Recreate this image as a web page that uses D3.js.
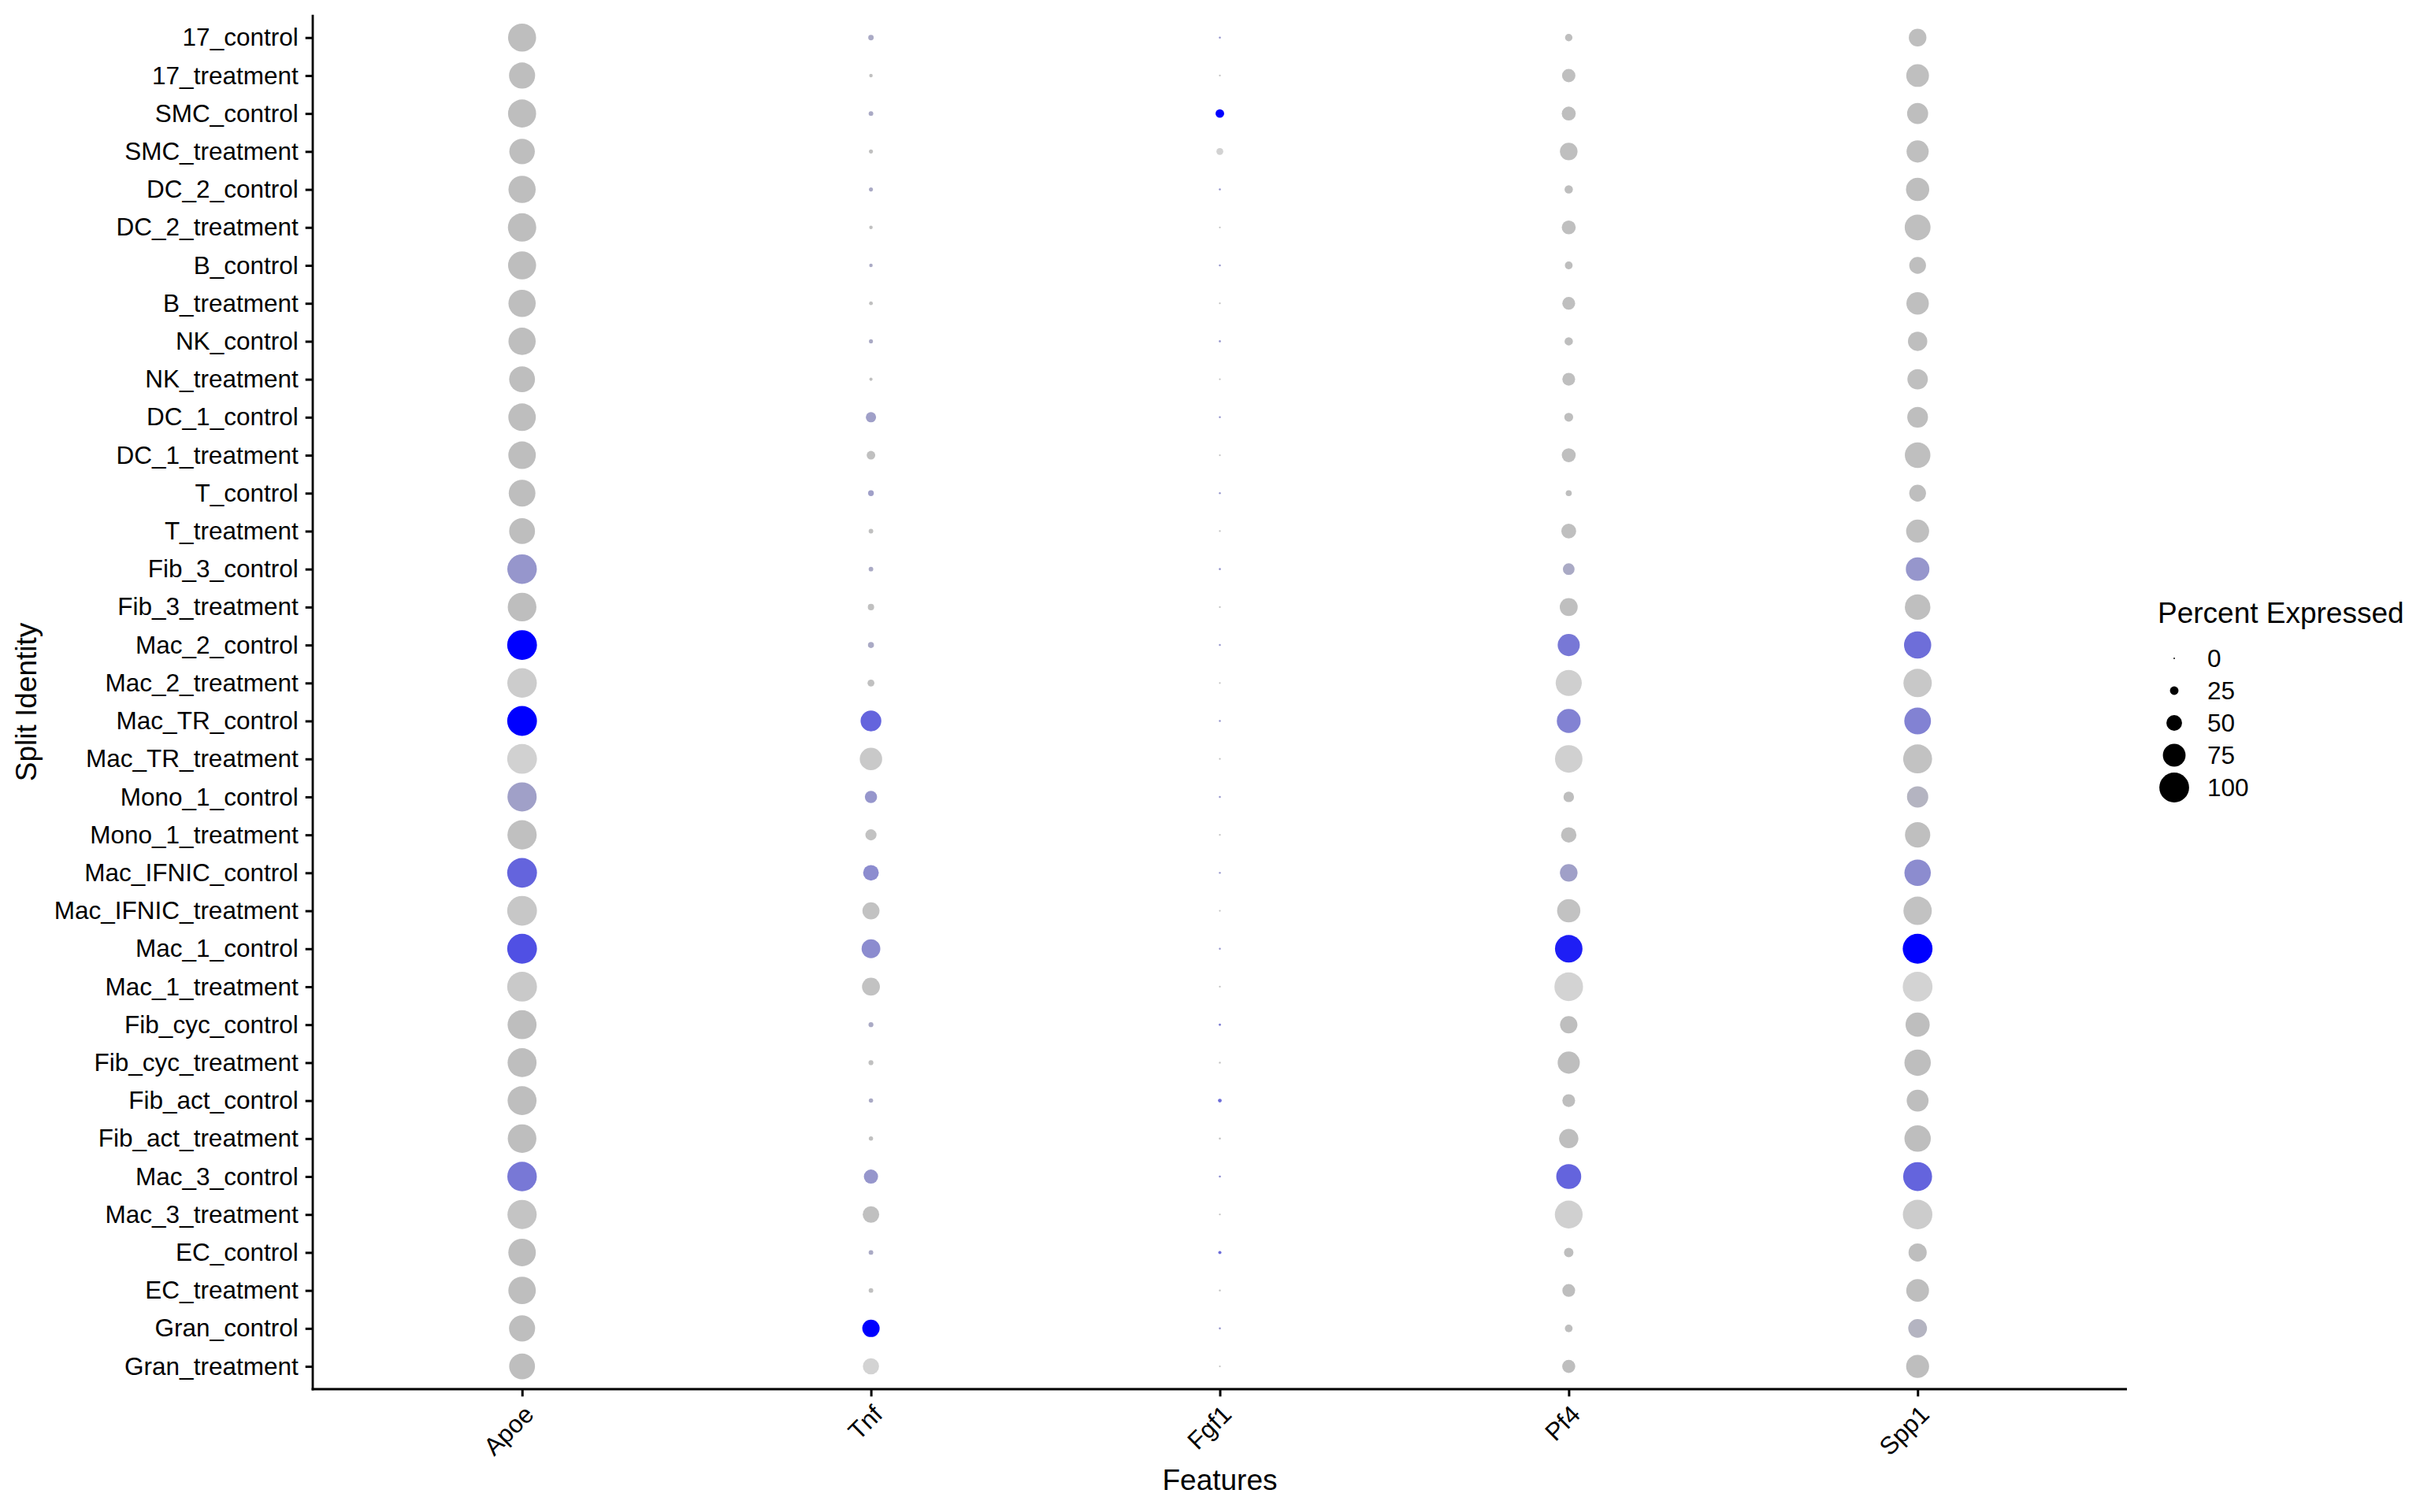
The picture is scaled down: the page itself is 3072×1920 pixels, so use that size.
<!DOCTYPE html>
<html>
<head>
<meta charset="utf-8">
<script src="https://cdn.jsdelivr.net/npm/d3@7"></script>
<style>
  html, body { margin: 0; padding: 0; background: #ffffff; }
  svg { display: block; }
  text { font-family: "Liberation Sans", Arial, Helvetica, sans-serif; fill: #000; }
</style>
</head>
<body>
<svg id="chart" width="3072" height="1920"></svg>
<script>
// ---------------- DATA ----------------
const ids = [
  "17_control","17_treatment","SMC_control","SMC_treatment","DC_2_control","DC_2_treatment",
  "B_control","B_treatment","NK_control","NK_treatment","DC_1_control","DC_1_treatment",
  "T_control","T_treatment","Fib_3_control","Fib_3_treatment","Mac_2_control","Mac_2_treatment",
  "Mac_TR_control","Mac_TR_treatment","Mono_1_control","Mono_1_treatment","Mac_IFNIC_control","Mac_IFNIC_treatment",
  "Mac_1_control","Mac_1_treatment","Fib_cyc_control","Fib_cyc_treatment","Fib_act_control","Fib_act_treatment",
  "Mac_3_control","Mac_3_treatment","EC_control","EC_treatment","Gran_control","Gran_treatment"
];
const features = ["Apoe", "Tnf", "Fgf1", "Pf4", "Spp1"];

// Percent expressed (one value per id, in the order of ids)
const pctApoe = [94,87,94,85,91,95,94,91,91,86,92,92,89,86,99,96,100,99,100,100,98,98,100,100,100,100,97,97,97,96,99,98,92,92,87,86];
const pctTnf  = [14,7,11,9,9,7,7,8,9,6,31,25,15,11,11,17,16,19,68,74,38,34,50,55,61,58,12,12,10,10,45,53,11,11,56,52];
const pctFgf1 = [2,1,25,19,2,1,1.5,1,2,1,1.5,1,1.5,1,2,1,1.5,1,1.5,1,1.5,1,1.5,1,1.5,1,3,1.5,8,2,2,1,6,1.5,2,1];
const pctPf4  = [21,42,44,57,24,44,22,40,24,40,26,44,16,47,36,58,73,87,79,92,32,49,57,77,92,96,56,73,40,63,83,93,28,40,22,41];
const pctSpp1 = [57,75,69,73,77,86,54,74,63,67,68,85,54,76,78,85,91,95,89,97,70,84,88,95,100,100,80,88,72,88,97,99,59,75,61,76];

// Scaled average expression, binned 1..20 (colour ramp step from grey to split colour)
const binApoe = [1,1,1,1,1,1,1,1,1,1,1,1,1,1,5,1,20,14,20,18,4,3,10,9,12,11,1,1,1,1,8,6,1,1,1,1];
const binTnf  = [3,3,3,3,3,3,3,3,3,3,4,3,4,3,3,3,3,3,10,11,5,5,6,5,6,5,3,3,3,3,5,3,3,3,20,20];
const binFgf1 = [5,5,20,19,5,5,5,5,5,5,5,5,5,5,5,5,5,5,5,5,5,5,5,5,5,5,7,5,9,5,6,5,9,5,5,5];
const binPf4  = [1,2,1,2,1,2,1,2,1,2,1,2,1,2,3,2,8,16,7,17,1,2,4,5,17,20,1,1,1,1,10,17,1,1,1,1];
const binSpp1 = [1,2,1,2,1,2,1,2,1,2,1,2,1,2,5,2,9,10,7,5,2,2,6,5,20,20,1,1,1,1,10,14,1,1,2,1];

const splits = ["control", "treatment"];
const splitColors = ["#0000FF", "#D3D3D3"];   // R "blue", "lightgrey"
const rampStart = "#BEBEBE";                   // R "grey"
const legendBreaks = [0, 25, 50, 75, 100];

const pctByFeature = { Apoe: pctApoe, Tnf: pctTnf, Fgf1: pctFgf1, Pf4: pctPf4, Spp1: pctSpp1 };
const binByFeature = { Apoe: binApoe, Tnf: binTnf, Fgf1: binFgf1, Pf4: binPf4, Spp1: binSpp1 };

// ---------------- LAYOUT ----------------
const panel = { left: 397, right: 2700, top: 18.8, bottom: 1764 };
const FONT_AXIS = 31.5, FONT_TITLE = 37;

const svg = d3.select("#chart");

const x = d3.scalePoint().domain(features).range([panel.left, panel.right]).padding(0.6);
const y = d3.scalePoint().domain(ids).range([panel.top, panel.bottom]).padding(0.6);
const r = d3.scaleLinear().domain([0, 100]).range([0.95, 18.9]);

const colorScale = d3.scaleOrdinal().domain(splits).range(splitColors);
function dotColor(id, bin) {
  const split = id.endsWith("_control") ? "control" : "treatment";
  return d3.interpolateRgb(rampStart, colorScale(split))((bin - 1) / 19);
}

const points = [];
features.forEach(f => {
  ids.forEach((id, i) => {
    points.push({ feature: f, id: id, pct: pctByFeature[f][i], bin: binByFeature[f][i] });
  });
});

// dots
svg.append("g").selectAll("circle")
  .data(points)
  .join("circle")
  .attr("cx", d => x(d.feature))
  .attr("cy", d => y(d.id))
  .attr("r", d => r(d.pct))
  .attr("fill", d => dotColor(d.id, d.bin));

// y axis
const yAxis = d3.axisLeft(y).tickSize(9.3).tickPadding(9).tickSizeOuter(0);
const gy = svg.append("g").attr("transform", `translate(${panel.left},0)`).call(yAxis);
gy.select(".domain").remove();
gy.selectAll(".tick line").attr("stroke", "#000").attr("stroke-width", 3);
gy.selectAll(".tick text").attr("font-size", FONT_AXIS)
  .attr("font-family", '"Liberation Sans", Arial, Helvetica, sans-serif').attr("fill", "#000");

// x axis
const xAxis = d3.axisBottom(x).tickSize(9.3).tickSizeOuter(0);
const gx = svg.append("g").attr("transform", `translate(0,${panel.bottom})`).call(xAxis);
gx.select(".domain").remove();
gx.selectAll(".tick line").attr("stroke", "#000").attr("stroke-width", 3);
gx.selectAll(".tick text")
  .attr("font-size", FONT_AXIS)
  .attr("font-family", '"Liberation Sans", Arial, Helvetica, sans-serif')
  .attr("fill", "#000")
  .attr("text-anchor", "end")
  .attr("x", 0).attr("y", 0).attr("dy", "0.72em")
  .attr("transform", "translate(0,18) rotate(-45)");

// axis lines
svg.append("line").attr("x1", panel.left).attr("x2", panel.left)
  .attr("y1", panel.top).attr("y2", panel.bottom + 1.4)
  .attr("stroke", "#000").attr("stroke-width", 2.8);
svg.append("line").attr("x1", panel.left - 1.4).attr("x2", panel.right)
  .attr("y1", panel.bottom).attr("y2", panel.bottom)
  .attr("stroke", "#000").attr("stroke-width", 2.8);

// axis titles
svg.append("text").attr("x", (panel.left + panel.right) / 2).attr("y", 1892)
  .attr("text-anchor", "middle").attr("font-size", FONT_TITLE).text("Features");
svg.append("text")
  .attr("transform", `translate(46,${(panel.top + panel.bottom) / 2}) rotate(-90)`)
  .attr("text-anchor", "middle").attr("font-size", FONT_TITLE).text("Split Identity");

// legend
const lg = svg.append("g");
lg.append("text").attr("x", 2739).attr("y", 791).attr("font-size", FONT_TITLE).text("Percent Expressed");
const ly = d3.scalePoint().domain(legendBreaks).range([836, 1000]);
lg.selectAll("circle").data(legendBreaks).join("circle")
  .attr("cx", 2760).attr("cy", d => ly(d)).attr("r", d => r(d)).attr("fill", "#000");
lg.selectAll("text.lab").data(legendBreaks).join("text").attr("class", "lab")
  .attr("x", 2802).attr("y", d => ly(d)).attr("dy", "0.36em")
  .attr("font-size", FONT_AXIS).text(d => d);
</script>
</body>
</html>
